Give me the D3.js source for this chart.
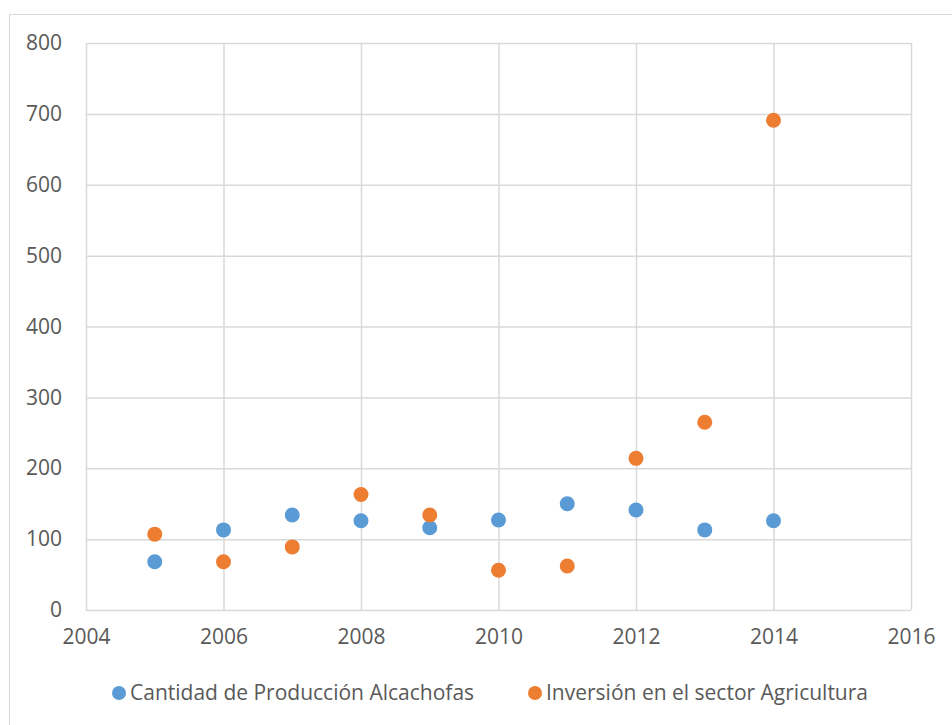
<!DOCTYPE html>
<html>
<head>
<meta charset="utf-8">
<script src="https://cdn.jsdelivr.net/npm/d3@7"></script>
<style>
  body { margin: 0; background: #fff; }
  text { font-family: "Open Sans", sans-serif; fill: #595959; }
</style>
</head>
<body>
<div class="chart"></div>
<script>
var years = [2005, 2006, 2007, 2008, 2009, 2010, 2011, 2012, 2013, 2014];
var produccion = [68, 113, 134, 126, 116, 127, 150, 141, 113, 126];
var inversion = [107, 68, 89, 163, 134, 56, 62, 214, 265, 691];
var xTicks = [2004, 2006, 2008, 2010, 2012, 2014, 2016];
var yTicks = [0, 100, 200, 300, 400, 500, 600, 700, 800];
var seriesNames = ["Cantidad de Producción Alcachofas", "Inversión en el sector Agricultura"];
var seriesColors = ["#5B9BD5", "#ED7D31"];

var W = 952, H = 725;
var marg = { t: 43, r: 41, b: 115, l: 86 };
var wid = W - marg.l - marg.r;
var hei = H - marg.t - marg.b;

var root = d3.select(".chart")
    .append("svg")
    .attr("width", W)
    .attr("height", H);

// chart frame
root.append("rect")
    .attr("x", 9.5)
    .attr("y", 14.5)
    .attr("width", W)
    .attr("height", H)
    .attr("fill", "none")
    .attr("stroke", "#d9d9d9");

var svg = root.append("g")
    .attr("transform", "translate(" + marg.l + "," + marg.t + ")");

var xscale = d3.scaleLinear().domain([2004, 2016]).range([0, wid]);
var yscale = d3.scaleLinear().domain([0, 800]).range([hei, 0]);

var xAxis = d3.axisBottom(xscale)
    .tickValues(xTicks)
    .tickSize(-hei)
    .tickPadding(19)
    .tickFormat(d3.format("d"));

var yAxis = d3.axisLeft(yscale)
    .tickValues(yTicks)
    .tickSize(-wid)
    .tickPadding(24);

svg.append("g")
    .attr("class", "x axis")
    .attr("transform", "translate(0," + hei + ")")
    .call(xAxis);

svg.append("g")
    .attr("class", "y axis")
    .call(yAxis);

svg.selectAll(".axis .domain").remove();
svg.selectAll(".axis line")
    .attr("stroke", "#d9d9d9")
    .attr("stroke-width", 1.5);
svg.selectAll(".axis text")
    .style("font-size", "21px")
    .attr("fill", "#595959");

var series = [produccion, inversion];
series.forEach(function(vals, s) {
    svg.selectAll("circle.s" + s)
        .data(vals)
        .enter().append("circle")
        .attr("class", "s" + s)
        .attr("cx", function(d, i) { return xscale(years[i]); })
        .attr("cy", function(d) { return yscale(d); })
        .attr("r", 7.5)
        .style("fill", seriesColors[s]);
});

var legendX = [119, 535];
var legend = root.selectAll(".legend")
    .data(seriesNames)
    .enter().append("g")
    .attr("class", "legend")
    .attr("transform", function(d, i) {
        return "translate(" + legendX[i] + ",693)";
    });

legend.append("circle")
    .attr("r", 7)
    .style("fill", function(d, i) { return seriesColors[i]; });

legend.append("text")
    .attr("x", 11)
    .attr("dy", ".35em")
    .style("font-size", "21px")
    .text(function(d) { return d; });
</script>
</body>
</html>
